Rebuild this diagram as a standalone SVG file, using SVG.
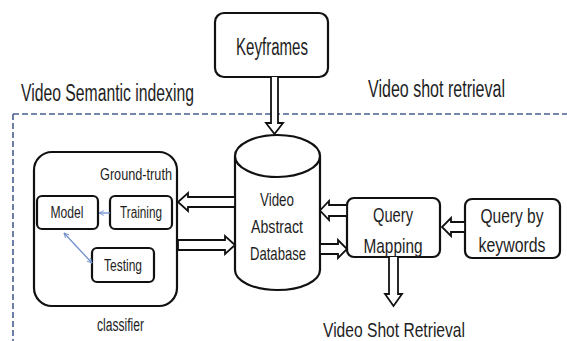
<svg xmlns="http://www.w3.org/2000/svg" width="567" height="341" viewBox="0 0 567 341">
<defs>
<style>
.box{fill:#fff;stroke:#111;stroke-width:2.2}
.harrow{fill:#fff;stroke:#111;stroke-width:1.8;stroke-linejoin:miter}
.t{font-family:"Liberation Sans",Arial,sans-serif;fill:#1e1e1e}
.blue{stroke:#6f8fcc;stroke-width:1.3;fill:none}
.dash{stroke:#4a5f92;stroke-width:1.6;stroke-dasharray:6 3;fill:none}
</style>
<marker id="bh" viewBox="0 0 10 10" refX="9" refY="5" markerWidth="6" markerHeight="6" orient="auto-start-reverse" markerUnits="userSpaceOnUse">
<path d="M1,1 L9,5 L1,9" fill="none" stroke="#6f8fcc" stroke-width="1.5"/>
</marker>
</defs>
<rect width="567" height="341" fill="#fff"/>

<g id="region">
<path class="dash" d="M13,114 H567 M13,114 V341"/>
<text class="t" x="21" y="101" font-size="23" textLength="173" lengthAdjust="spacingAndGlyphs">Video Semantic indexing</text>
<text class="t" x="368" y="97" font-size="23" textLength="137" lengthAdjust="spacingAndGlyphs">Video shot retrieval</text>
</g>

<g id="keyframes">
<rect class="box" x="215" y="13" width="113" height="64" rx="9"/>
<text class="t" x="272" y="55" font-size="23" text-anchor="middle" textLength="72" lengthAdjust="spacingAndGlyphs">Keyframes</text>
</g>

<g id="classifier">
<rect class="box" x="34" y="152" width="143" height="154" rx="18"/>
<text class="t" x="100" y="180" font-size="16.5" textLength="72" lengthAdjust="spacingAndGlyphs">Ground-truth</text>
<text class="t" x="97" y="331" font-size="18" textLength="47" lengthAdjust="spacingAndGlyphs">classifier</text>
</g>

<g id="model">
<rect class="box" x="37" y="196" width="61" height="33" rx="5"/>
<text class="t" x="67" y="218" font-size="16" text-anchor="middle" textLength="33" lengthAdjust="spacingAndGlyphs">Model</text>
</g>

<g id="training">
<rect class="box" x="110" y="196" width="62" height="33" rx="5"/>
<text class="t" x="141" y="218" font-size="16" text-anchor="middle" textLength="42" lengthAdjust="spacingAndGlyphs">Training</text>
</g>

<g id="testing">
<rect class="box" x="92" y="248" width="62" height="34" rx="5"/>
<text class="t" x="123" y="271" font-size="16" text-anchor="middle" textLength="38" lengthAdjust="spacingAndGlyphs">Testing</text>
</g>

<g id="database">
<path class="box" d="M235,156 L235,270 A42.5,20 0 0,0 320,270 L320,156"/>
<ellipse class="box" cx="277.5" cy="156" rx="42.5" ry="21"/>
<text class="t" x="277" y="206" font-size="19" text-anchor="middle" textLength="34" lengthAdjust="spacingAndGlyphs">Video</text>
<text class="t" x="277" y="233" font-size="19" text-anchor="middle" textLength="52" lengthAdjust="spacingAndGlyphs">Abstract</text>
<text class="t" x="278" y="260" font-size="19" text-anchor="middle" textLength="56" lengthAdjust="spacingAndGlyphs">Database</text>
</g>

<g id="query-mapping">
<rect class="box" x="347" y="198" width="93" height="59" rx="7"/>
<text class="t" x="393" y="222" font-size="21" text-anchor="middle" textLength="40" lengthAdjust="spacingAndGlyphs">Query</text>
<text class="t" x="393" y="253" font-size="21" text-anchor="middle" textLength="59" lengthAdjust="spacingAndGlyphs">Mapping</text>
</g>

<g id="query-keywords">
<rect class="box" x="465" y="199" width="95" height="59" rx="7"/>
<text class="t" x="512" y="223" font-size="21" text-anchor="middle" textLength="63" lengthAdjust="spacingAndGlyphs">Query by</text>
<text class="t" x="512" y="252" font-size="21" text-anchor="middle" textLength="67" lengthAdjust="spacingAndGlyphs">keywords</text>
</g>

<g id="retrieval-label">
<text class="t" x="323" y="337" font-size="21" textLength="142" lengthAdjust="spacingAndGlyphs">Video Shot Retrieval</text>
</g>

<g id="connectors">
<!-- Keyframes to database -->
<path class="harrow" d="M271,77 V123 H266 L274.5,134 L283,123 H278 V77"/>
<!-- database to classifier -->
<path class="harrow" d="M235,197 H188 V193 L178,202 L188,211 V207 H235 Z"/>
<!-- classifier to database -->
<path class="harrow" d="M178,240 H225 V236 L235,245 L225,254 V250 H178 Z"/>
<!-- query mapping to database -->
<path class="harrow" d="M347,205 H329 V201 L320,210.5 L329,220 V216 H347 Z"/>
<!-- database to query mapping -->
<path class="harrow" d="M320,244 H338 V240 L347,249 L338,258 V254 H320 Z"/>
<!-- keywords to query mapping -->
<path class="harrow" d="M465,222 H451 V218 L442,227 L451,236 V232 H465 Z"/>
<!-- query mapping down -->
<path class="harrow" d="M389,257 V294 H385 L393.5,306 L402,294 H398 V257"/>
<!-- blue internal arrows -->
<line class="blue" x1="110" y1="213" x2="99" y2="213" marker-end="url(#bh)"/>
<line class="blue" x1="64" y1="233" x2="92" y2="263" marker-start="url(#bh)" marker-end="url(#bh)"/>
</g>
</svg>
